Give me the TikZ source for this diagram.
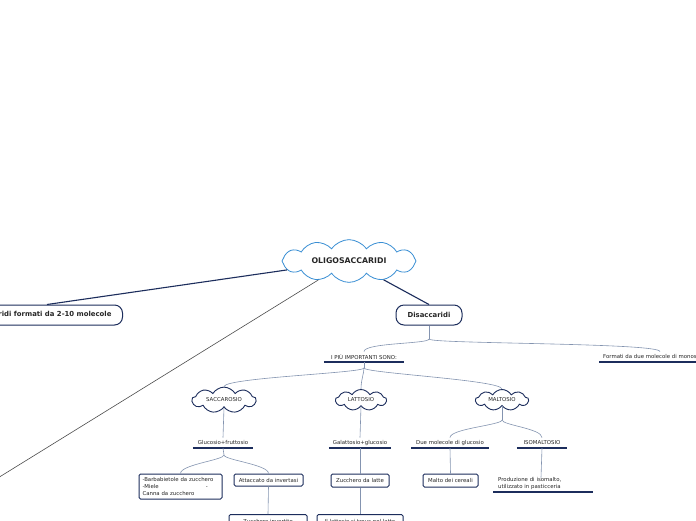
\documentclass[tikz,border=0pt]{standalone}
\usepackage{fontspec}
\setmainfont{DejaVu Sans}
\usepackage{tikz}
\usetikzlibrary{calc,shapes,positioning}
\definecolor{navy}{RGB}{28,45,92}
\definecolor{skyline}{RGB}{58,143,212}
\definecolor{twig}{RGB}{132,148,176}

\begin{document}
\begin{tikzpicture}[x=1pt, y=-1pt,
	every node/.style={font=\fontsize{5.4}{6.6}\selectfont, text=black!85},
	bigcloud/.style={cloud, cloud puffs=12, cloud puff arc=110, aspect=3.6, draw=skyline, line width=0.8pt,
		fill=white, minimum width=134pt, minimum height=37pt, inner sep=0pt,
		font=\fontsize{7.8}{9}\selectfont\bfseries},
	smallcloud/.style={cloud, cloud puffs=9, cloud puff arc=120, aspect=3, draw=navy, line width=0.9pt,
		fill=white, minimum height=21pt, inner sep=0pt},
	topic/.style={draw=navy, line width=1pt, rounded corners=8pt, fill=white,
		minimum height=20pt, font=\fontsize{6.9}{8}\selectfont\bfseries},
	leaf/.style={draw=navy, line width=1pt, rounded corners=1.5pt, fill=white,
		inner sep=2.5pt, minimum height=13pt},
	uline/.style={inner sep=0pt, minimum height=10pt, anchor=south,
		append after command={(\tikzlastnode.south west) edge[navy, line width=1.2pt] (\tikzlastnode.south east)}},
	mainline/.style={navy, line width=1.1pt},
	twigline/.style={twig, line width=0.6pt},
	twigcurve/.style={to path={.. controls ($(\tikztostart)+(0,5)$) and ($(\tikztotarget)+(0,-9)$) .. (\tikztotarget)}}
	]
	\fill[white] (0,0) rectangle (696,520);
	\useasboundingbox (0,0) rectangle (696,520);

	% centre
	\node[bigcloud] (oligo) at (349,261) {OLIGOSACCARIDI};

	% first level
	\node[topic, anchor=east, inner xsep=11pt] (olig) at (123,315) {Oligosaccaridi formati da 2-10 molecole};
	\node[topic, minimum width=66pt] (disac) at (429,315) {Disaccaridi};
	\coordinate (offleft) at (-20,489);

	\draw[mainline] (oligo) -- ($(olig.north east)+(-76,0)$);
	\draw[mainline] (oligo) -- (disac.north);
	\draw[black!70, line width=0.6pt] (oligo) -- (offleft);

	% disaccaridi
	\node[uline, minimum width=80pt] (imp) at (364,362) {I PIÙ IMPORTANTI SONO:};
	\node[uline, anchor=south west, minimum width=110pt, inner xsep=4pt] (mono) at (599,362) {Formati da due molecole di monosaccaridi};
	\coordinate (disj) at (429,339);
	\draw[twigline] (disac.south) -- (disj);
	\draw[twigline] (disj) to[twigcurve] (imp.north);
	\draw[twigline] (disj) to[twigcurve] ($(mono.north west)+(61,0)$);

	% the three sugars
	\node[smallcloud, minimum width=64pt] (sacc) at (224,400) {SACCAROSIO};
	\node[smallcloud, minimum width=51pt] (latt) at (361,400) {LATTOSIO};
	\node[smallcloud, minimum width=53pt] (malt) at (502,400) {MALTOSIO};
	\coordinate (impj) at (364,368);
	\draw[twigline] (imp.south) -- (impj);
	\foreach \s in {sacc, latt, malt}
		\draw[twigline] (impj) to[twigcurve] (\s.north);

	\node[uline, minimum width=60pt] (glufru) at (223,448) {Glucosio+fruttosio};
	\node[uline, minimum width=62pt] (galglu) at (360,448) {Galattosio+glucosio};
	\node[uline, minimum width=77pt] (duemol) at (450,448) {Due molecole di glucosio};
	\node[uline, minimum width=50pt] (isomal) at (542,448) {ISOMALTOSIO};

	\draw[twigline] (sacc.south) -- (glufru.north);
	\draw[twigline] (latt.south) -- (galglu.north);
	\coordinate (maltj) at (502,420);
	\draw[twigline] (malt.south) -- (maltj);
	\draw[twigline] (maltj) to[twigcurve] (duemol.north);
	\draw[twigline] (maltj) to[twigcurve] (isomal.north);

	% leaves
	\node[leaf, minimum width=83pt, minimum height=25pt, align=left, text width=76pt] (barba) at (180.5,486.5)
		{-Barbabietole da zucchero\\-Miele\hspace{47pt}-\\Canna da zucchero};
	\node[leaf, minimum width=69pt, minimum height=12pt] (attac) at (268.5,480) {Attaccato da invertasi};
	\node[leaf, minimum width=58pt] (zuclat) at (360,480.5) {Zucchero da latte};
	\node[leaf, minimum width=55pt] (malto) at (450.5,480.5) {Malto dei cereali};
	\node[uline, anchor=south west, minimum width=97pt, text width=90pt, inner xsep=5pt, align=left, minimum height=17pt] (produz) at (493,492)
		{Produzione di isomalto,\\utilizzato in pasticceria};
	\node[leaf, anchor=north, minimum width=78pt, minimum height=13pt] (zucinv) at (268,514) {Zucchero invertito};
	\node[leaf, anchor=north, minimum width=86pt, minimum height=13pt] (lattbox) at (360,514) {Il lattosio si trova nel latte};

	\coordinate (gluj) at (224,455);
	\draw[twigline] (glufru.south) -- (gluj);
	\draw[twigline] (gluj) to[twigcurve] (barba.north);
	\draw[twigline] (gluj) to[twigcurve] (attac.north);
	\draw[twigline] (galglu.south) -- (zuclat.north);
	\draw[twigline] (duemol.south) -- (malto.north);
	\draw[twigline] (isomal.south) -- ($(produz.north west)+(48,3)$);
	\draw[twigline] (attac.south) -- (zucinv.north);
	\draw[twigline] (zuclat.south) -- (lattbox.north);

\end{tikzpicture}
\end{document}
